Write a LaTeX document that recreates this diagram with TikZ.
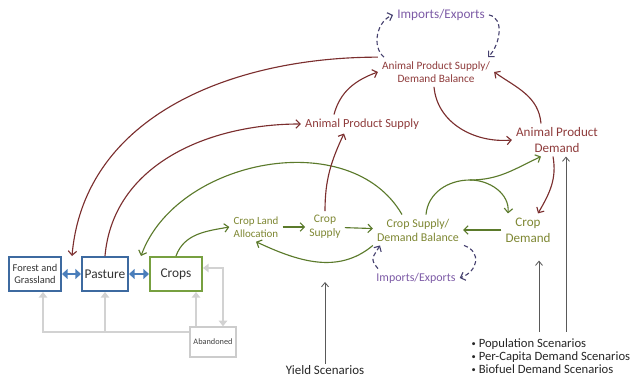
\documentclass[tikz,border=0pt]{standalone}
\usepackage{fontspec}
\setmainfont{Carlito}
\usetikzlibrary{arrows.meta}

\definecolor{animalred}{HTML}{7B2E2E}
\definecolor{animaltext}{HTML}{8E3B3B}
\definecolor{cropgreen}{HTML}{5B7A2B}
\definecolor{croptext}{HTML}{7E8733}
\definecolor{tradeline}{HTML}{45406E}
\definecolor{tradetext}{HTML}{7D5BA6}
\definecolor{landblue}{HTML}{3D6AA0}
\definecolor{swapblue}{HTML}{4A7EBB}
\definecolor{cropbox}{HTML}{77A040}

\newcommand{\scenbullet}{\raisebox{0.8pt}{\fontsize{6}{6}\selectfont\textbullet}\ }

\tikzset{
  landbox/.style={draw=landblue, line width=1.4pt, minimum height=0.85cm, text=black!80, align=center, inner sep=1pt},
  animalnode/.style={text=animaltext, align=center, inner sep=1pt, outer sep=2pt},
  cropnode/.style={text=croptext, align=center, inner sep=1pt, outer sep=2pt},
  tradenode/.style={text=tradetext, align=center, inner sep=1pt, outer sep=2pt},
  animalflow/.style={draw=animalred, line width=0.8pt, -{Straight Barb[length=3pt,width=6pt]}},
  cropflow/.style={draw=cropgreen, line width=0.8pt, -{Straight Barb[length=3pt,width=6pt]}},
  tradeflow/.style={draw=tradeline, line width=0.8pt, dash pattern=on 3pt off 2pt, -{Straight Barb[length=3pt,width=6pt]}},
  scenflow/.style={draw=black!65, line width=0.6pt, -{Straight Barb[length=3pt,width=5pt]}},
  landswap/.style={draw=swapblue, line width=2pt, {Triangle[length=4pt,width=7pt]}-{Triangle[length=4pt,width=7pt]}},
  landback/.style={draw=gray!35, line width=2pt, -{Triangle[length=4pt,width=6pt]}}
}

\begin{document}
\begin{tikzpicture}[x=0.025cm, y=0.025cm]
  \useasboundingbox (0,0) rectangle (636,380);

  % land use boxes
  \node[landbox, minimum width=1.3cm, font=\fontsize{7.4}{8.6}\selectfont] (forest) at (35,106) {Forest and\\Grassland};
  \node[landbox, minimum width=1.15cm, font=\fontsize{9.5}{11}\selectfont] (pasture) at (105,106) {Pasture};
  \node[landbox, draw=cropbox, minimum width=1.3cm, font=\fontsize{9.5}{11}\selectfont] (crops) at (176,106) {Crops};
  \node[draw=gray!40, line width=1pt, minimum width=1.15cm, minimum height=0.75cm, inner sep=1pt,
        text=black!75, font=\fontsize{5.9}{7}\selectfont] (aband) at (213,38) {Abandoned};

  \draw[landswap] (forest) -- (pasture);
  \draw[landswap] (pasture) -- (crops);

  % abandoned land
  \coordinate (jl) at (43,48);
  \coordinate (ab1) at (196,0);
  \coordinate (ab2) at (223,112);
  \draw[landback] (aband.west |- jl) -- (jl) -- (jl |- forest.south);
  \draw[landback] (pasture.south |- jl) -- (pasture.south);
  \draw[landback] (ab1 |- aband.north) -- (ab1 |- crops.south);
  \draw[landback, {Triangle[length=4pt,width=6pt]}-{Triangle[length=4pt,width=6pt]}] (ab2 -| crops.east) -| (ab2 |- aband.north);

  % crop side
  \node[cropnode, font=\fontsize{7.8}{9.5}\selectfont] (cla) at (256,153) {Crop Land\\Allocation};
  \node[cropnode, font=\fontsize{8.2}{10}\selectfont] (csup) at (325,153) {Crop\\Supply};
  \node[cropnode, font=\fontsize{8.5}{10}\selectfont] (csdb) at (418,150) {Crop Supply/\\Demand Balance};
  \node[cropnode, font=\fontsize{9.3}{11.5}\selectfont] (cdem) at (528,150) {Crop\\Demand};
  \node[tradenode, font=\fontsize{8.5}{10}\selectfont] (ie2) at (416,102) {Imports/Exports};

  % animal side
  \node[animalnode, font=\fontsize{8}{9.5}\selectfont] (apsdb) at (436,308) {Animal Product Supply/\\Demand Balance};
  \node[tradenode, font=\fontsize{9.4}{11}\selectfont] (ie1) at (441,365) {Imports/Exports};
  \node[animalnode, font=\fontsize{8.8}{10}\selectfont] (aps) at (362,256) {Animal Product Supply};
  \node[animalnode, font=\fontsize{9.3}{11}\selectfont] (apd) at (557,240) {Animal Product\\Demand};

  % scenarios
  \node[text=black!85, align=left, anchor=north west, inner sep=1pt, font=\fontsize{9}{9.3}\selectfont] (scen) at (470,43)
    {\scenbullet Population Scenarios\\\scenbullet Per-Capita Demand Scenarios\\\scenbullet Biofuel Demand Scenarios};
  \node[text=black!85, font=\fontsize{9.2}{11}\selectfont, inner sep=1pt] (yield) at (325,10) {Yield Scenarios};

  % crop flows
  \draw[cropflow] (crops.north) to[out=70,in=190] (cla.west);
  \draw[cropflow] (cla) -- (csup);
  \draw[cropflow] (csup) -- (csdb);
  \draw[cropflow] (csdb.south west) to[out=-140,in=-25] (cla.south);
  \draw[cropflow] ([xshift=-0.4cm]csdb.north) to[out=120,in=70] ([xshift=0.3cm]pasture.north east);
  \coordinate (split) at (470,200);
  \draw[cropflow] ([xshift=0.2cm]csdb.north) to[out=85,in=180] (split) to[out=0,in=205] ([xshift=-0.4cm]apd.south);
  \draw[cropflow] (split) to[out=0,in=85] ([xshift=-0.5cm]cdem.north);
  \draw[cropflow] (cdem) -- (csdb);

  % animal flows
  \draw[animalflow] (csup.north) to[out=90,in=-115] ([xshift=-0.45cm]aps.south);
  \draw[animalflow] ([xshift=-0.7cm]aps.north) to[out=75,in=200] (apsdb.west);
  \draw[animalflow] (pasture.north) to[out=85,in=180] (aps.west);
  \draw[animalflow] (apsdb.north west) to[out=180,in=85] ([xshift=0.25cm]forest.north east);
  \draw[animalflow] ([xshift=-0.05cm]apsdb.south) to[out=-85,in=185] (apd.west);
  \draw[animalflow] ([xshift=-0.4cm]apd.north) to[out=95,in=-35] (apsdb.east);
  \draw[animalflow] ([xshift=-0.1cm]apd.south) to[out=-80,in=60] ([xshift=0.25cm]cdem.north);

  % trade
  \draw[tradeflow] ([xshift=-1.3cm]apsdb.north) to[out=140,in=200] (ie1.west);
  \draw[tradeflow] (ie1.east) to[out=-10,in=45] ([xshift=1.3cm]apsdb.north);
  \draw[tradeflow] ([xshift=-0.95cm]ie2.north) to[out=130,in=-120,looseness=1.5] ([xshift=-0.95cm]csdb.south);
  \draw[tradeflow] ([xshift=1.15cm]csdb.south) to[out=-20,in=20,looseness=1.5] (ie2.east);

  % scenario inputs
  \coordinate (yieldtip) at (325,98);
  \coordinate (sc1) at (539,48);
  \coordinate (sc2) at (566,48);
  \draw[scenflow] (yield.north) -- (yieldtip);
  \draw[scenflow, shorten >=0.35cm] (sc1) -- (sc1 |- cdem.south);
  \draw[scenflow] (sc2) -- (sc2 |- apd.south);
\end{tikzpicture}
\end{document}
